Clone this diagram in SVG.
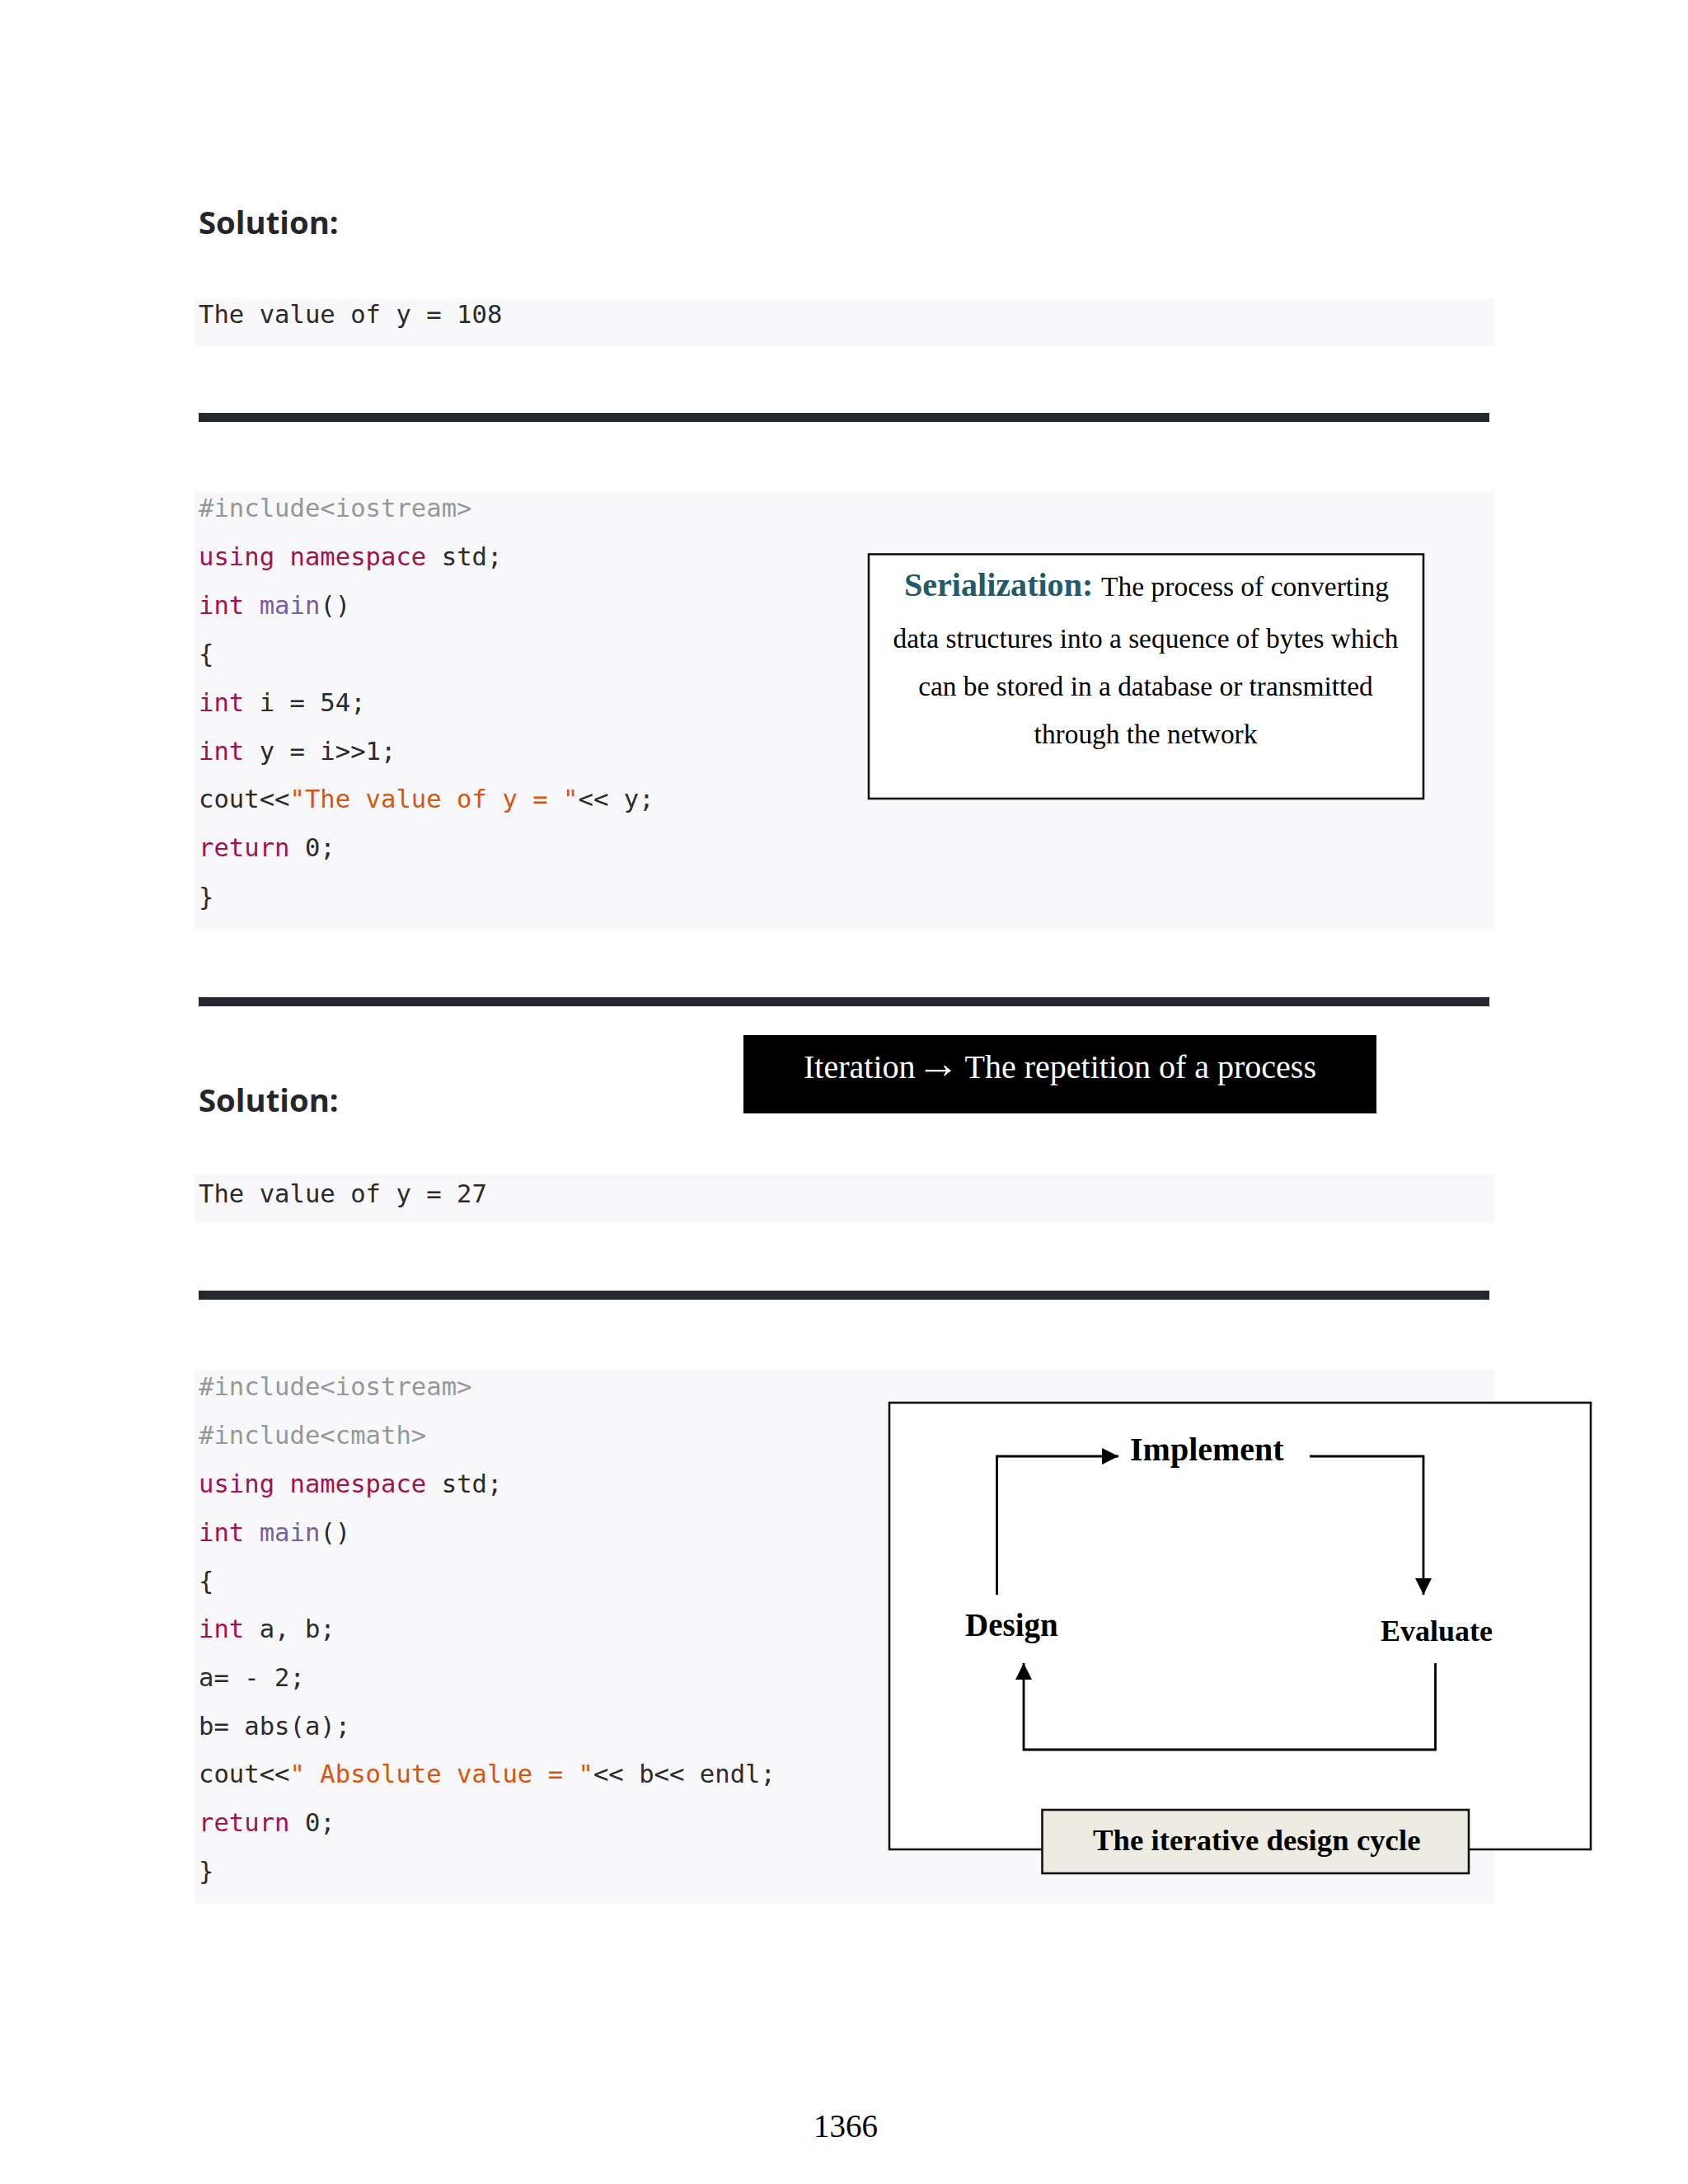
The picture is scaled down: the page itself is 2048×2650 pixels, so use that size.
<svg xmlns="http://www.w3.org/2000/svg" width="2048" height="2650" viewBox="0 0 2048 2650">
<defs>
<marker id="ah" markerUnits="userSpaceOnUse" markerWidth="21" markerHeight="21" refX="20" refY="10" orient="auto"><path d="M0 0L20 10L0 20Z" fill="#000"/></marker>
</defs>
<style>
.bg{fill:#f8f8fb}
.rule{fill:#25282c}
.code{font-family:"DejaVu Sans Mono","Liberation Mono",monospace;font-size:30.6px;fill:#2b2b2b;white-space:pre}
.k{fill:#a3134f}.f{fill:#795da3}.s{fill:#d9550b}.c{fill:#969896}
.h{font-family:"Open Sans","Noto Sans",sans-serif;font-weight:700;font-size:38.3px;fill:#23272d}
.t{font-family:"Liberation Serif",serif;fill:#000}
.b{font-weight:700}
.frame{fill:#fff;stroke:#111;stroke-width:2.6}
.conn{fill:none;stroke:#000;stroke-width:2.8}
</style>
<rect width="2048" height="2650" fill="#fff"/>
<g id="solution-1">
<text class="h" x="241" y="284">Solution:</text>
<rect class="bg" x="236" y="362" width="1577" height="58"/>
<text class="code" x="241" y="392">The value of y = 108</text>
</g>
<rect id="rule-1" class="rule" x="241" y="501" width="1566" height="11"/>
<g id="code-1">
<rect class="bg" x="236" y="597" width="1577" height="530"/>
<text class="code" x="241" y="627"><tspan class="c">#include&lt;iostream&gt;</tspan></text>
<text class="code" x="241" y="686"><tspan class="k">using namespace</tspan> std;</text>
<text class="code" x="241" y="745"><tspan class="k">int</tspan> <tspan class="f">main</tspan>()</text>
<text class="code" x="241" y="804">{</text>
<text class="code" x="241" y="863"><tspan class="k">int</tspan> i = 54;</text>
<text class="code" x="241" y="922"><tspan class="k">int</tspan> y = i&gt;&gt;1;</text>
<text class="code" x="241" y="980">cout&lt;&lt;<tspan class="s">"The value of y = "</tspan>&lt;&lt; y;</text>
<text class="code" x="241" y="1039"><tspan class="k">return</tspan> 0;</text>
<text class="code" x="241" y="1099">}</text>
</g>
<g id="serialization">
<rect class="frame" x="1054" y="672.5" width="673" height="296.5"/>
<text class="t" x="1097" y="723" font-size="33.5"><tspan class="b" font-size="40.1" fill="#215a6b">Serialization:</tspan><tspan dx="2"> The process of converting</tspan></text>
<text class="t" x="1390" y="786" font-size="33.4" text-anchor="middle">data structures into a sequence of bytes which</text>
<text class="t" x="1390" y="844" font-size="33.4" text-anchor="middle">can be stored in a database or transmitted</text>
<text class="t" x="1390" y="902" font-size="33.4" text-anchor="middle">through the network</text>
</g>
<rect id="rule-2" class="rule" x="241" y="1210" width="1566" height="11"/>
<g id="iteration">
<rect x="902" y="1256" width="768" height="95" fill="#000"/>
<text class="t" x="975" y="1308" font-size="40" style="fill:#fff">Iteration<tspan x="1112" font-size="52">→</tspan><tspan x="1170.5">The repetition of a process</tspan></text>
</g>
<g id="solution-2">
<text class="h" x="241" y="1349">Solution:</text>
<rect class="bg" x="236" y="1425" width="1577" height="59"/>
<text class="code" x="241" y="1459">The value of y = 27</text>
</g>
<rect id="rule-3" class="rule" x="241" y="1566" width="1566" height="11"/>
<g id="code-2">
<rect class="bg" x="236" y="1662" width="1577" height="648"/>
<text class="code" x="241" y="1693"><tspan class="c">#include&lt;iostream&gt;</tspan></text>
<text class="code" x="241" y="1752"><tspan class="c">#include&lt;cmath&gt;</tspan></text>
<text class="code" x="241" y="1811"><tspan class="k">using namespace</tspan> std;</text>
<text class="code" x="241" y="1870"><tspan class="k">int</tspan> <tspan class="f">main</tspan>()</text>
<text class="code" x="241" y="1929">{</text>
<text class="code" x="241" y="1987"><tspan class="k">int</tspan> a, b;</text>
<text class="code" x="241" y="2046">a= - 2;</text>
<text class="code" x="241" y="2105">b= abs(a);</text>
<text class="code" x="241" y="2163">cout&lt;&lt;<tspan class="s">" Absolute value = "</tspan>&lt;&lt; b&lt;&lt; endl;</text>
<text class="code" x="241" y="2222"><tspan class="k">return</tspan> 0;</text>
<text class="code" x="241" y="2281">}</text>
</g>
<g id="diagram-frame"><rect class="frame" x="1079" y="1702" width="851" height="542"/></g>
<g id="connectors">
<path class="conn" marker-end="url(#ah)" d="M1209.5 1935V1767H1357"/>
<path class="conn" marker-end="url(#ah)" d="M1589 1767H1727V1935"/>
<path class="conn" marker-end="url(#ah)" d="M1741.5 2018V2123H1242V2018"/>
</g>
<g id="implement"><text class="t b" x="1371" y="1772" font-size="40">Implement</text></g>
<g id="design"><text class="t b" x="1171" y="1985" font-size="39">Design</text></g>
<g id="evaluate"><text class="t b" x="1675" y="1991" font-size="36">Evaluate</text></g>
<g id="caption">
<rect x="1264.5" y="2196" width="517.5" height="77" fill="#eeece1" stroke="#111" stroke-width="2.6"/>
<text class="t b" x="1326" y="2245" font-size="36.8">The iterative design cycle</text>
</g>
<text id="page-number" class="t" x="1026" y="2593" font-size="39" text-anchor="middle">1366</text>
</svg>
